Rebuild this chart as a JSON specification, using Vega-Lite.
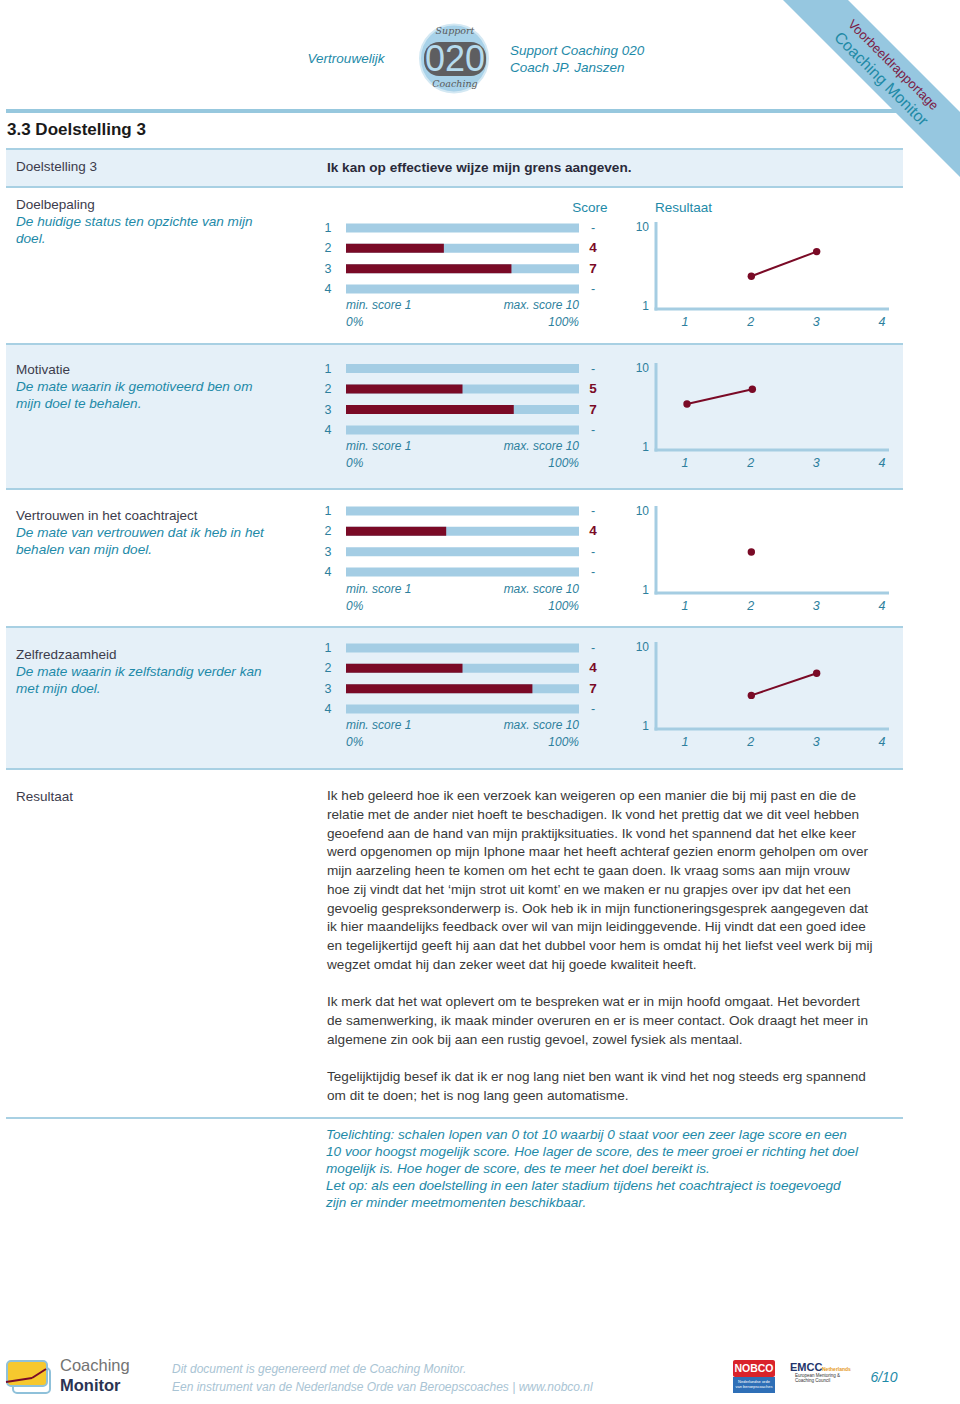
{
"$schema":"https://vega.github.io/schema/vega-lite/v6.json",
"width":960,"height":1404,
"autosize":{"type":"fit","contains":"padding"},
"padding":0,
"background":"white",
"config":{"view":{"stroke":null},"text":{"font":"Liberation Sans"}},
"data":{"values":[{}]},
"datasets":{
"ticks":[{"m":1},{"m":2},{"m":3},{"m":4}],
"minLbl":[{"line":0,"text":"min. score 1"},{"line":1,"text":"0%"}],
"maxLbl":[{"line":0,"text":"max. score 10"},{"line":1,"text":"100%"}],
"yLbl":[{"line":0,"v":"10"},{"line":1,"v":"1"}],
"para":[
{"line":1,"text":"Ik heb geleerd hoe ik een verzoek kan weigeren op een manier die bij mij past en die de"},
{"line":2,"text":"relatie met de ander niet hoeft te beschadigen. Ik vond het prettig dat we dit veel hebben"},
{"line":3,"text":"geoefend aan de hand van mijn praktijksituaties. Ik vond het spannend dat het elke keer"},
{"line":4,"text":"werd opgenomen op mijn Iphone maar het heeft achteraf gezien enorm geholpen om over"},
{"line":5,"text":"mijn aarzeling heen te komen om het echt te gaan doen. Ik vraag soms aan mijn vrouw"},
{"line":6,"text":"hoe zij vindt dat het ‘mijn strot uit komt’ en we maken er nu grapjes over ipv dat het een"},
{"line":7,"text":"gevoelig gespreksonderwerp is. Ook heb ik in mijn functioneringsgesprek aangegeven dat"},
{"line":8,"text":"ik hier maandelijks feedback over wil van mijn leidinggevende.  Hij vindt dat een goed idee"},
{"line":9,"text":"en tegelijkertijd geeft hij aan dat het dubbel voor hem is omdat hij het liefst veel werk bij mij"},
{"line":10,"text":"wegzet omdat hij dan zeker weet dat hij goede kwaliteit heeft."},
{"line":12,"text":"Ik merk dat het wat oplevert om te bespreken wat er in mijn hoofd omgaat. Het bevordert"},
{"line":13,"text":"de samenwerking, ik maak minder overuren en er is meer contact. Ook draagt het meer in"},
{"line":14,"text":"algemene zin ook bij aan een rustig gevoel, zowel fysiek als mentaal."},
{"line":16,"text":"Tegelijktijdig besef ik dat ik er nog lang niet ben want ik vind het nog steeds erg spannend"},
{"line":17,"text":"om dit te doen; het is nog lang geen automatisme."}
],
"note":[
{"line":1,"text":"Toelichting: schalen lopen van 0 tot 10 waarbij 0 staat voor een zeer lage score en een"},
{"line":2,"text":"10 voor hoogst mogelijk score. Hoe lager de score, des te meer groei er richting het doel"},
{"line":3,"text":"mogelijk is. Hoe hoger de score, des te meer het doel bereikt is."},
{"line":4,"text":"Let op: als een doelstelling in een later stadium tijdens het coachtraject is toegevoegd"},
{"line":5,"text":"zijn er minder meetmomenten beschikbaar."}
],
"foot":[
{"line":1,"text":"Dit document is gegenereerd met de Coaching Monitor."},
{"line":2,"text":"Een instrument van de Nederlandse Orde van Beroepscoaches | www.nobco.nl"}
]
},
"resolve":{"scale":{"x":"independent","y":"independent"}},
"layer":[
{"mark":{"type":"rect","color":"#e5f0f8"},"encoding":{"x":{"datum":6,"type":"quantitative","scale":{"domain":[0,960],"range":[0,960],"nice":false,"zero":false},"axis":null},"x2":{"datum":903},"y":{"datum":149,"type":"quantitative","scale":{"domain":[0,1404],"range":[0,1404],"nice":false,"zero":false},"axis":null},"y2":{"datum":187}}},
{"mark":{"type":"rect","color":"#e5f0f8"},"encoding":{"x":{"datum":6,"type":"quantitative","scale":{"domain":[0,960],"range":[0,960],"nice":false,"zero":false},"axis":null},"x2":{"datum":903},"y":{"datum":344,"type":"quantitative","scale":{"domain":[0,1404],"range":[0,1404],"nice":false,"zero":false},"axis":null},"y2":{"datum":489}}},
{"mark":{"type":"rect","color":"#e5f0f8"},"encoding":{"x":{"datum":6,"type":"quantitative","scale":{"domain":[0,960],"range":[0,960],"nice":false,"zero":false},"axis":null},"x2":{"datum":903},"y":{"datum":627,"type":"quantitative","scale":{"domain":[0,1404],"range":[0,1404],"nice":false,"zero":false},"axis":null},"y2":{"datum":769}}},
{"mark":{"type":"rule","color":"#97c8de","strokeWidth":4},"encoding":{"x":{"datum":6,"type":"quantitative","scale":{"domain":[0,960],"range":[0,960],"nice":false,"zero":false},"axis":null},"x2":{"datum":903},"y":{"datum":111,"type":"quantitative","scale":{"domain":[0,1404],"range":[0,1404],"nice":false,"zero":false},"axis":null}}},
{"mark":{"type":"rule","color":"#a8d0e3","strokeWidth":2},"encoding":{"x":{"datum":6,"type":"quantitative","scale":{"domain":[0,960],"range":[0,960],"nice":false,"zero":false},"axis":null},"x2":{"datum":903},"y":{"datum":149,"type":"quantitative","scale":{"domain":[0,1404],"range":[0,1404],"nice":false,"zero":false},"axis":null}}},
{"mark":{"type":"rule","color":"#a8d0e3","strokeWidth":2},"encoding":{"x":{"datum":6,"type":"quantitative","scale":{"domain":[0,960],"range":[0,960],"nice":false,"zero":false},"axis":null},"x2":{"datum":903},"y":{"datum":187,"type":"quantitative","scale":{"domain":[0,1404],"range":[0,1404],"nice":false,"zero":false},"axis":null}}},
{"mark":{"type":"rule","color":"#a8d0e3","strokeWidth":2},"encoding":{"x":{"datum":6,"type":"quantitative","scale":{"domain":[0,960],"range":[0,960],"nice":false,"zero":false},"axis":null},"x2":{"datum":903},"y":{"datum":344,"type":"quantitative","scale":{"domain":[0,1404],"range":[0,1404],"nice":false,"zero":false},"axis":null}}},
{"mark":{"type":"rule","color":"#a8d0e3","strokeWidth":2},"encoding":{"x":{"datum":6,"type":"quantitative","scale":{"domain":[0,960],"range":[0,960],"nice":false,"zero":false},"axis":null},"x2":{"datum":903},"y":{"datum":489,"type":"quantitative","scale":{"domain":[0,1404],"range":[0,1404],"nice":false,"zero":false},"axis":null}}},
{"mark":{"type":"rule","color":"#a8d0e3","strokeWidth":2},"encoding":{"x":{"datum":6,"type":"quantitative","scale":{"domain":[0,960],"range":[0,960],"nice":false,"zero":false},"axis":null},"x2":{"datum":903},"y":{"datum":627,"type":"quantitative","scale":{"domain":[0,1404],"range":[0,1404],"nice":false,"zero":false},"axis":null}}},
{"mark":{"type":"rule","color":"#a8d0e3","strokeWidth":2},"encoding":{"x":{"datum":6,"type":"quantitative","scale":{"domain":[0,960],"range":[0,960],"nice":false,"zero":false},"axis":null},"x2":{"datum":903},"y":{"datum":769,"type":"quantitative","scale":{"domain":[0,1404],"range":[0,1404],"nice":false,"zero":false},"axis":null}}},
{"mark":{"type":"rule","color":"#a8d0e3","strokeWidth":2},"encoding":{"x":{"datum":6,"type":"quantitative","scale":{"domain":[0,960],"range":[0,960],"nice":false,"zero":false},"axis":null},"x2":{"datum":903},"y":{"datum":1118,"type":"quantitative","scale":{"domain":[0,1404],"range":[0,1404],"nice":false,"zero":false},"axis":null}}},
{"mark":{"type":"rule","color":"#96c7e0","strokeWidth":46,"strokeCap":"butt","clip":true},"encoding":{"x":{"datum":790,"type":"quantitative","scale":{"domain":[0,960],"range":[0,960],"nice":false,"zero":false},"axis":null},"x2":{"datum":1000},"y":{"datum":-25.5,"type":"quantitative","scale":{"domain":[0,1404],"range":[0,1404],"nice":false,"zero":false},"axis":null},"y2":{"datum":184.5}}},
{"mark":{"type":"text","text":"Voorbeeldrapportage","angle":45,"fontSize":13,"color":"#7c1d47","align":"center","baseline":"middle"},"encoding":{"x":{"datum":893,"type":"quantitative","scale":{"domain":[0,960],"range":[0,960],"nice":false,"zero":false},"axis":null},"y":{"datum":65,"type":"quantitative","scale":{"domain":[0,1404],"range":[0,1404],"nice":false,"zero":false},"axis":null}}},
{"mark":{"type":"text","text":"Coaching Monitor","angle":45,"fontSize":16,"color":"#1f8aa6","align":"center","baseline":"middle"},"encoding":{"x":{"datum":881,"type":"quantitative","scale":{"domain":[0,960],"range":[0,960],"nice":false,"zero":false},"axis":null},"y":{"datum":79,"type":"quantitative","scale":{"domain":[0,1404],"range":[0,1404],"nice":false,"zero":false},"axis":null}}},
{"mark":{"type":"text","text":"Vertrouwelijk","fontSize":13.5,"fontStyle":"italic","color":"#1e8aa8","align":"center","baseline":"middle"},"encoding":{"x":{"datum":346,"type":"quantitative","scale":{"domain":[0,960],"range":[0,960],"nice":false,"zero":false},"axis":null},"y":{"datum":59,"type":"quantitative","scale":{"domain":[0,1404],"range":[0,1404],"nice":false,"zero":false},"axis":null}}},
{"mark":{"type":"text","text":"Support Coaching 020","fontSize":13.5,"fontStyle":"italic","color":"#1e8aa8","align":"left","baseline":"middle"},"encoding":{"x":{"datum":510,"type":"quantitative","scale":{"domain":[0,960],"range":[0,960],"nice":false,"zero":false},"axis":null},"y":{"datum":51,"type":"quantitative","scale":{"domain":[0,1404],"range":[0,1404],"nice":false,"zero":false},"axis":null}}},
{"mark":{"type":"text","text":"Coach JP. Janszen","fontSize":13.5,"fontStyle":"italic","color":"#1e8aa8","align":"left","baseline":"middle"},"encoding":{"x":{"datum":510,"type":"quantitative","scale":{"domain":[0,960],"range":[0,960],"nice":false,"zero":false},"axis":null},"y":{"datum":68,"type":"quantitative","scale":{"domain":[0,1404],"range":[0,1404],"nice":false,"zero":false},"axis":null}}},
{"mark":{"type":"point","shape":"circle","filled":true,"size":4624,"color":"#a8d2e9","stroke":"#d3e8f3","strokeWidth":2,"opacity":1},"encoding":{"x":{"datum":454,"type":"quantitative","scale":{"domain":[0,960],"range":[0,960],"nice":false,"zero":false},"axis":null},"y":{"datum":58.5,"type":"quantitative","scale":{"domain":[0,1404],"range":[0,1404],"nice":false,"zero":false},"axis":null}}},
{"mark":{"type":"rect","color":"#5e5e60","cornerRadius":15},"encoding":{"x":{"datum":424,"type":"quantitative","scale":{"domain":[0,960],"range":[0,960],"nice":false,"zero":false},"axis":null},"x2":{"datum":486},"y":{"datum":42,"type":"quantitative","scale":{"domain":[0,1404],"range":[0,1404],"nice":false,"zero":false},"axis":null},"y2":{"datum":76}}},
{"mark":{"type":"text","text":"020","fontSize":36,"color":"#b5dbee","align":"center","baseline":"middle"},"encoding":{"x":{"datum":455,"type":"quantitative","scale":{"domain":[0,960],"range":[0,960],"nice":false,"zero":false},"axis":null},"y":{"datum":60,"type":"quantitative","scale":{"domain":[0,1404],"range":[0,1404],"nice":false,"zero":false},"axis":null}}},
{"mark":{"type":"text","text":"Support","font":"DejaVu Serif","fontSize":9.5,"fontStyle":"italic","color":"#5a5a5a","align":"center","baseline":"middle"},"encoding":{"x":{"datum":455,"type":"quantitative","scale":{"domain":[0,960],"range":[0,960],"nice":false,"zero":false},"axis":null},"y":{"datum":31,"type":"quantitative","scale":{"domain":[0,1404],"range":[0,1404],"nice":false,"zero":false},"axis":null}}},
{"mark":{"type":"text","text":"Coaching","font":"DejaVu Serif","fontSize":9.5,"fontStyle":"italic","color":"#5a5a5a","align":"center","baseline":"middle"},"encoding":{"x":{"datum":455,"type":"quantitative","scale":{"domain":[0,960],"range":[0,960],"nice":false,"zero":false},"axis":null},"y":{"datum":84,"type":"quantitative","scale":{"domain":[0,1404],"range":[0,1404],"nice":false,"zero":false},"axis":null}}},
{"mark":{"type":"text","text":"3.3 Doelstelling 3","fontSize":17,"fontWeight":"bold","color":"#1a1a1a","align":"left","baseline":"middle"},"encoding":{"x":{"datum":7,"type":"quantitative","scale":{"domain":[0,960],"range":[0,960],"nice":false,"zero":false},"axis":null},"y":{"datum":130,"type":"quantitative","scale":{"domain":[0,1404],"range":[0,1404],"nice":false,"zero":false},"axis":null}}},
{"mark":{"type":"text","text":"Doelstelling 3","fontSize":13.5,"color":"#3c3c4c","align":"left","baseline":"middle"},"encoding":{"x":{"datum":16,"type":"quantitative","scale":{"domain":[0,960],"range":[0,960],"nice":false,"zero":false},"axis":null},"y":{"datum":167,"type":"quantitative","scale":{"domain":[0,1404],"range":[0,1404],"nice":false,"zero":false},"axis":null}}},
{"mark":{"type":"text","text":"Ik kan op effectieve wijze mijn grens aangeven.","fontSize":13.6,"fontWeight":"bold","color":"#2a2a3a","align":"left","baseline":"middle"},"encoding":{"x":{"datum":327,"type":"quantitative","scale":{"domain":[0,960],"range":[0,960],"nice":false,"zero":false},"axis":null},"y":{"datum":168,"type":"quantitative","scale":{"domain":[0,1404],"range":[0,1404],"nice":false,"zero":false},"axis":null}}},
{"mark":{"type":"text","text":"Score","fontSize":13.5,"color":"#1e8aa8","align":"center","baseline":"middle"},"encoding":{"x":{"datum":590,"type":"quantitative","scale":{"domain":[0,960],"range":[0,960],"nice":false,"zero":false},"axis":null},"y":{"datum":208,"type":"quantitative","scale":{"domain":[0,1404],"range":[0,1404],"nice":false,"zero":false},"axis":null}}},
{"mark":{"type":"text","text":"Resultaat","fontSize":13.5,"color":"#1e8aa8","align":"left","baseline":"middle"},"encoding":{"x":{"datum":655,"type":"quantitative","scale":{"domain":[0,960],"range":[0,960],"nice":false,"zero":false},"axis":null},"y":{"datum":208,"type":"quantitative","scale":{"domain":[0,1404],"range":[0,1404],"nice":false,"zero":false},"axis":null}}},

{"data":{"values":[{"m":1,"label":"-"},{"m":2,"label":"4","bar":4.2,"pt":4.0},{"m":3,"label":"7","bar":7.1,"pt":7.0},{"m":4,"label":"-"}]},
"resolve":{"scale":{"x":"independent","y":"independent"}},
"layer":[
{"mark":{"type":"rule","color":"#a4cde4","strokeWidth":9,"strokeCap":"butt"},"encoding":{"x":{"datum":0,"type":"quantitative","scale":{"domain":[0,10],"range":[346,579],"nice":false,"zero":false},"axis":null},"x2":{"datum":10},"y":{"field":"m","type":"quantitative","scale":{"domain":[1,4],"range":[228,289],"nice":false,"zero":false},"axis":null}}},
{"transform":[{"filter":"isValid(datum.bar)"}],"mark":{"type":"rule","color":"#7a0a26","strokeWidth":9,"strokeCap":"butt"},"encoding":{"x":{"field":"bar","type":"quantitative","scale":{"domain":[0,10],"range":[346,579],"nice":false,"zero":false},"axis":null},"x2":{"datum":0},"y":{"field":"m","type":"quantitative","scale":{"domain":[1,4],"range":[228,289],"nice":false,"zero":false},"axis":null}}},
{"mark":{"type":"text","fontSize":12.5,"color":"#2d7f9d","align":"center","baseline":"middle"},"encoding":{"x":{"datum":-0.77,"type":"quantitative","scale":{"domain":[0,10],"range":[346,579],"nice":false,"zero":false},"axis":null},"y":{"field":"m","type":"quantitative","scale":{"domain":[1,4],"range":[228,289],"nice":false,"zero":false},"axis":null},"text":{"field":"m"}}},
{"transform":[{"filter":"isValid(datum.bar)"}],"mark":{"type":"text","fontSize":13.5,"fontWeight":"bold","color":"#7a0a26","align":"center","baseline":"middle"},"encoding":{"x":{"datum":10.6,"type":"quantitative","scale":{"domain":[0,10],"range":[346,579],"nice":false,"zero":false},"axis":null},"y":{"field":"m","type":"quantitative","scale":{"domain":[1,4],"range":[228,289],"nice":false,"zero":false},"axis":null},"text":{"field":"label"}}},
{"transform":[{"filter":"!isValid(datum.bar)"}],"mark":{"type":"text","fontSize":12.5,"color":"#2d7f9d","align":"center","baseline":"middle"},"encoding":{"x":{"datum":10.6,"type":"quantitative","scale":{"domain":[0,10],"range":[346,579],"nice":false,"zero":false},"axis":null},"y":{"field":"m","type":"quantitative","scale":{"domain":[1,4],"range":[228,289],"nice":false,"zero":false},"axis":null},"text":{"field":"label"}}},
{"transform":[{"filter":"isValid(datum.pt)"}],"mark":{"type":"line","color":"#7a0a26","strokeWidth":2},"encoding":{"x":{"field":"m","type":"quantitative","scale":{"domain":[1,4],"range":[686,882],"nice":false,"zero":false},"axis":null},"y":{"field":"pt","type":"quantitative","scale":{"domain":[0,10],"range":[309,227],"nice":false,"zero":false},"axis":null}}},
{"transform":[{"filter":"isValid(datum.pt)"}],"mark":{"type":"point","filled":true,"size":55,"color":"#7a0a26","opacity":1},"encoding":{"x":{"field":"m","type":"quantitative","scale":{"domain":[1,4],"range":[686,882],"nice":false,"zero":false},"axis":null},"y":{"field":"pt","type":"quantitative","scale":{"domain":[0,10],"range":[309,227],"nice":false,"zero":false},"axis":null}}},
{"data":{"name":"ticks"},"mark":{"type":"text","fontSize":12.5,"fontStyle":"italic","color":"#2d7f9d","align":"center","baseline":"middle"},"encoding":{"x":{"field":"m","type":"quantitative","scale":{"domain":[1,4],"range":[685,882],"nice":false,"zero":false},"axis":null},"y":{"datum":322,"type":"quantitative","scale":{"domain":[0,1404],"range":[0,1404],"nice":false,"zero":false},"axis":null},"text":{"field":"m"}}},
{"data":{"name":"minLbl"},"mark":{"type":"text","fontSize":12,"fontStyle":"italic","color":"#2d7f9d","align":"left","baseline":"middle"},"encoding":{"x":{"datum":0,"type":"quantitative","scale":{"domain":[0,10],"range":[346,579],"nice":false,"zero":false},"axis":null},"y":{"field":"line","type":"quantitative","scale":{"domain":[0,1],"range":[305,322],"nice":false,"zero":false},"axis":null},"text":{"field":"text"}}},
{"data":{"name":"maxLbl"},"mark":{"type":"text","fontSize":12,"fontStyle":"italic","color":"#2d7f9d","align":"right","baseline":"middle"},"encoding":{"x":{"datum":10,"type":"quantitative","scale":{"domain":[0,10],"range":[346,579],"nice":false,"zero":false},"axis":null},"y":{"field":"line","type":"quantitative","scale":{"domain":[0,1],"range":[305,322],"nice":false,"zero":false},"axis":null},"text":{"field":"text"}}},
{"data":{"name":"yLbl"},"mark":{"type":"text","fontSize":12,"color":"#2d7f9d","align":"right","baseline":"middle"},"encoding":{"x":{"datum":649,"type":"quantitative","scale":{"domain":[0,960],"range":[0,960],"nice":false,"zero":false},"axis":null},"y":{"field":"line","type":"quantitative","scale":{"domain":[0,1],"range":[227,306],"nice":false,"zero":false},"axis":null},"text":{"field":"v"}}},
{"data":{"values":[{}]},"mark":{"type":"rule","color":"#a5cde2","strokeWidth":3},"encoding":{"x":{"datum":656,"type":"quantitative","scale":{"domain":[0,960],"range":[0,960],"nice":false,"zero":false},"axis":null},"y":{"datum":222,"type":"quantitative","scale":{"domain":[0,1404],"range":[0,1404],"nice":false,"zero":false},"axis":null},"y2":{"datum":310.5}}},
{"data":{"values":[{}]},"mark":{"type":"rule","color":"#a5cde2","strokeWidth":3},"encoding":{"x":{"datum":654.5,"type":"quantitative","scale":{"domain":[0,960],"range":[0,960],"nice":false,"zero":false},"axis":null},"x2":{"datum":889},"y":{"datum":309,"type":"quantitative","scale":{"domain":[0,1404],"range":[0,1404],"nice":false,"zero":false},"axis":null}}},
{"data":{"values":[{"text":"Doelbepaling"}]},"mark":{"type":"text","fontSize":13.5,"color":"#3c3c4c","align":"left","baseline":"middle"},"encoding":{"x":{"datum":16,"type":"quantitative","scale":{"domain":[0,960],"range":[0,960],"nice":false,"zero":false},"axis":null},"y":{"datum":205,"type":"quantitative","scale":{"domain":[0,1404],"range":[0,1404],"nice":false,"zero":false},"axis":null},"text":{"field":"text"}}},
{"data":{"values":[{"line":1,"text":"De huidige status ten opzichte van mijn"},{"line":2,"text":"doel."}]},"mark":{"type":"text","fontSize":13.6,"fontStyle":"italic","color":"#1e8aa8","align":"left","baseline":"middle"},"encoding":{"x":{"datum":16,"type":"quantitative","scale":{"domain":[0,960],"range":[0,960],"nice":false,"zero":false},"axis":null},"y":{"field":"line","type":"quantitative","scale":{"domain":[1,2],"range":[222,239],"nice":false,"zero":false},"axis":null},"text":{"field":"text"}}}
]},

{"data":{"values":[{"m":1,"label":"-","pt":5.6},{"m":2,"label":"5","bar":5.0,"pt":7.4},{"m":3,"label":"7","bar":7.2},{"m":4,"label":"-"}]},
"resolve":{"scale":{"x":"independent","y":"independent"}},
"layer":[
{"mark":{"type":"rule","color":"#a4cde4","strokeWidth":9,"strokeCap":"butt"},"encoding":{"x":{"datum":0,"type":"quantitative","scale":{"domain":[0,10],"range":[346,579],"nice":false,"zero":false},"axis":null},"x2":{"datum":10},"y":{"field":"m","type":"quantitative","scale":{"domain":[1,4],"range":[368.5,430],"nice":false,"zero":false},"axis":null}}},
{"transform":[{"filter":"isValid(datum.bar)"}],"mark":{"type":"rule","color":"#7a0a26","strokeWidth":9,"strokeCap":"butt"},"encoding":{"x":{"field":"bar","type":"quantitative","scale":{"domain":[0,10],"range":[346,579],"nice":false,"zero":false},"axis":null},"x2":{"datum":0},"y":{"field":"m","type":"quantitative","scale":{"domain":[1,4],"range":[368.5,430],"nice":false,"zero":false},"axis":null}}},
{"mark":{"type":"text","fontSize":12.5,"color":"#2d7f9d","align":"center","baseline":"middle"},"encoding":{"x":{"datum":-0.77,"type":"quantitative","scale":{"domain":[0,10],"range":[346,579],"nice":false,"zero":false},"axis":null},"y":{"field":"m","type":"quantitative","scale":{"domain":[1,4],"range":[368.5,430],"nice":false,"zero":false},"axis":null},"text":{"field":"m"}}},
{"transform":[{"filter":"isValid(datum.bar)"}],"mark":{"type":"text","fontSize":13.5,"fontWeight":"bold","color":"#7a0a26","align":"center","baseline":"middle"},"encoding":{"x":{"datum":10.6,"type":"quantitative","scale":{"domain":[0,10],"range":[346,579],"nice":false,"zero":false},"axis":null},"y":{"field":"m","type":"quantitative","scale":{"domain":[1,4],"range":[368.5,430],"nice":false,"zero":false},"axis":null},"text":{"field":"label"}}},
{"transform":[{"filter":"!isValid(datum.bar)"}],"mark":{"type":"text","fontSize":12.5,"color":"#2d7f9d","align":"center","baseline":"middle"},"encoding":{"x":{"datum":10.6,"type":"quantitative","scale":{"domain":[0,10],"range":[346,579],"nice":false,"zero":false},"axis":null},"y":{"field":"m","type":"quantitative","scale":{"domain":[1,4],"range":[368.5,430],"nice":false,"zero":false},"axis":null},"text":{"field":"label"}}},
{"transform":[{"filter":"isValid(datum.pt)"}],"mark":{"type":"line","color":"#7a0a26","strokeWidth":2},"encoding":{"x":{"field":"m","type":"quantitative","scale":{"domain":[1,4],"range":[687,883],"nice":false,"zero":false},"axis":null},"y":{"field":"pt","type":"quantitative","scale":{"domain":[0,10],"range":[450,368],"nice":false,"zero":false},"axis":null}}},
{"transform":[{"filter":"isValid(datum.pt)"}],"mark":{"type":"point","filled":true,"size":55,"color":"#7a0a26","opacity":1},"encoding":{"x":{"field":"m","type":"quantitative","scale":{"domain":[1,4],"range":[687,883],"nice":false,"zero":false},"axis":null},"y":{"field":"pt","type":"quantitative","scale":{"domain":[0,10],"range":[450,368],"nice":false,"zero":false},"axis":null}}},
{"data":{"name":"ticks"},"mark":{"type":"text","fontSize":12.5,"fontStyle":"italic","color":"#2d7f9d","align":"center","baseline":"middle"},"encoding":{"x":{"field":"m","type":"quantitative","scale":{"domain":[1,4],"range":[685,882],"nice":false,"zero":false},"axis":null},"y":{"datum":463,"type":"quantitative","scale":{"domain":[0,1404],"range":[0,1404],"nice":false,"zero":false},"axis":null},"text":{"field":"m"}}},
{"data":{"name":"minLbl"},"mark":{"type":"text","fontSize":12,"fontStyle":"italic","color":"#2d7f9d","align":"left","baseline":"middle"},"encoding":{"x":{"datum":0,"type":"quantitative","scale":{"domain":[0,10],"range":[346,579],"nice":false,"zero":false},"axis":null},"y":{"field":"line","type":"quantitative","scale":{"domain":[0,1],"range":[446,463],"nice":false,"zero":false},"axis":null},"text":{"field":"text"}}},
{"data":{"name":"maxLbl"},"mark":{"type":"text","fontSize":12,"fontStyle":"italic","color":"#2d7f9d","align":"right","baseline":"middle"},"encoding":{"x":{"datum":10,"type":"quantitative","scale":{"domain":[0,10],"range":[346,579],"nice":false,"zero":false},"axis":null},"y":{"field":"line","type":"quantitative","scale":{"domain":[0,1],"range":[446,463],"nice":false,"zero":false},"axis":null},"text":{"field":"text"}}},
{"data":{"name":"yLbl"},"mark":{"type":"text","fontSize":12,"color":"#2d7f9d","align":"right","baseline":"middle"},"encoding":{"x":{"datum":649,"type":"quantitative","scale":{"domain":[0,960],"range":[0,960],"nice":false,"zero":false},"axis":null},"y":{"field":"line","type":"quantitative","scale":{"domain":[0,1],"range":[368,447],"nice":false,"zero":false},"axis":null},"text":{"field":"v"}}},
{"data":{"values":[{}]},"mark":{"type":"rule","color":"#a5cde2","strokeWidth":3},"encoding":{"x":{"datum":656,"type":"quantitative","scale":{"domain":[0,960],"range":[0,960],"nice":false,"zero":false},"axis":null},"y":{"datum":363,"type":"quantitative","scale":{"domain":[0,1404],"range":[0,1404],"nice":false,"zero":false},"axis":null},"y2":{"datum":451.5}}},
{"data":{"values":[{}]},"mark":{"type":"rule","color":"#a5cde2","strokeWidth":3},"encoding":{"x":{"datum":654.5,"type":"quantitative","scale":{"domain":[0,960],"range":[0,960],"nice":false,"zero":false},"axis":null},"x2":{"datum":889},"y":{"datum":450,"type":"quantitative","scale":{"domain":[0,1404],"range":[0,1404],"nice":false,"zero":false},"axis":null}}},
{"data":{"values":[{"text":"Motivatie"}]},"mark":{"type":"text","fontSize":13.5,"color":"#3c3c4c","align":"left","baseline":"middle"},"encoding":{"x":{"datum":16,"type":"quantitative","scale":{"domain":[0,960],"range":[0,960],"nice":false,"zero":false},"axis":null},"y":{"datum":370,"type":"quantitative","scale":{"domain":[0,1404],"range":[0,1404],"nice":false,"zero":false},"axis":null},"text":{"field":"text"}}},
{"data":{"values":[{"line":1,"text":"De mate waarin ik gemotiveerd ben om"},{"line":2,"text":"mijn doel te behalen."}]},"mark":{"type":"text","fontSize":13.6,"fontStyle":"italic","color":"#1e8aa8","align":"left","baseline":"middle"},"encoding":{"x":{"datum":16,"type":"quantitative","scale":{"domain":[0,960],"range":[0,960],"nice":false,"zero":false},"axis":null},"y":{"field":"line","type":"quantitative","scale":{"domain":[1,2],"range":[387,404],"nice":false,"zero":false},"axis":null},"text":{"field":"text"}}}
]},

{"data":{"values":[{"m":1,"label":"-"},{"m":2,"label":"4","bar":4.3,"pt":5.0},{"m":3,"label":"-"},{"m":4,"label":"-"}]},
"resolve":{"scale":{"x":"independent","y":"independent"}},
"layer":[
{"mark":{"type":"rule","color":"#a4cde4","strokeWidth":9,"strokeCap":"butt"},"encoding":{"x":{"datum":0,"type":"quantitative","scale":{"domain":[0,10],"range":[346,579],"nice":false,"zero":false},"axis":null},"x2":{"datum":10},"y":{"field":"m","type":"quantitative","scale":{"domain":[1,4],"range":[511,572],"nice":false,"zero":false},"axis":null}}},
{"transform":[{"filter":"isValid(datum.bar)"}],"mark":{"type":"rule","color":"#7a0a26","strokeWidth":9,"strokeCap":"butt"},"encoding":{"x":{"field":"bar","type":"quantitative","scale":{"domain":[0,10],"range":[346,579],"nice":false,"zero":false},"axis":null},"x2":{"datum":0},"y":{"field":"m","type":"quantitative","scale":{"domain":[1,4],"range":[511,572],"nice":false,"zero":false},"axis":null}}},
{"mark":{"type":"text","fontSize":12.5,"color":"#2d7f9d","align":"center","baseline":"middle"},"encoding":{"x":{"datum":-0.77,"type":"quantitative","scale":{"domain":[0,10],"range":[346,579],"nice":false,"zero":false},"axis":null},"y":{"field":"m","type":"quantitative","scale":{"domain":[1,4],"range":[511,572],"nice":false,"zero":false},"axis":null},"text":{"field":"m"}}},
{"transform":[{"filter":"isValid(datum.bar)"}],"mark":{"type":"text","fontSize":13.5,"fontWeight":"bold","color":"#7a0a26","align":"center","baseline":"middle"},"encoding":{"x":{"datum":10.6,"type":"quantitative","scale":{"domain":[0,10],"range":[346,579],"nice":false,"zero":false},"axis":null},"y":{"field":"m","type":"quantitative","scale":{"domain":[1,4],"range":[511,572],"nice":false,"zero":false},"axis":null},"text":{"field":"label"}}},
{"transform":[{"filter":"!isValid(datum.bar)"}],"mark":{"type":"text","fontSize":12.5,"color":"#2d7f9d","align":"center","baseline":"middle"},"encoding":{"x":{"datum":10.6,"type":"quantitative","scale":{"domain":[0,10],"range":[346,579],"nice":false,"zero":false},"axis":null},"y":{"field":"m","type":"quantitative","scale":{"domain":[1,4],"range":[511,572],"nice":false,"zero":false},"axis":null},"text":{"field":"label"}}},
{"transform":[{"filter":"isValid(datum.pt)"}],"mark":{"type":"point","filled":true,"size":55,"color":"#7a0a26","opacity":1},"encoding":{"x":{"field":"m","type":"quantitative","scale":{"domain":[1,4],"range":[686,882],"nice":false,"zero":false},"axis":null},"y":{"field":"pt","type":"quantitative","scale":{"domain":[0,10],"range":[593,511],"nice":false,"zero":false},"axis":null}}},
{"data":{"name":"ticks"},"mark":{"type":"text","fontSize":12.5,"fontStyle":"italic","color":"#2d7f9d","align":"center","baseline":"middle"},"encoding":{"x":{"field":"m","type":"quantitative","scale":{"domain":[1,4],"range":[685,882],"nice":false,"zero":false},"axis":null},"y":{"datum":606,"type":"quantitative","scale":{"domain":[0,1404],"range":[0,1404],"nice":false,"zero":false},"axis":null},"text":{"field":"m"}}},
{"data":{"name":"minLbl"},"mark":{"type":"text","fontSize":12,"fontStyle":"italic","color":"#2d7f9d","align":"left","baseline":"middle"},"encoding":{"x":{"datum":0,"type":"quantitative","scale":{"domain":[0,10],"range":[346,579],"nice":false,"zero":false},"axis":null},"y":{"field":"line","type":"quantitative","scale":{"domain":[0,1],"range":[589,606],"nice":false,"zero":false},"axis":null},"text":{"field":"text"}}},
{"data":{"name":"maxLbl"},"mark":{"type":"text","fontSize":12,"fontStyle":"italic","color":"#2d7f9d","align":"right","baseline":"middle"},"encoding":{"x":{"datum":10,"type":"quantitative","scale":{"domain":[0,10],"range":[346,579],"nice":false,"zero":false},"axis":null},"y":{"field":"line","type":"quantitative","scale":{"domain":[0,1],"range":[589,606],"nice":false,"zero":false},"axis":null},"text":{"field":"text"}}},
{"data":{"name":"yLbl"},"mark":{"type":"text","fontSize":12,"color":"#2d7f9d","align":"right","baseline":"middle"},"encoding":{"x":{"datum":649,"type":"quantitative","scale":{"domain":[0,960],"range":[0,960],"nice":false,"zero":false},"axis":null},"y":{"field":"line","type":"quantitative","scale":{"domain":[0,1],"range":[511,590],"nice":false,"zero":false},"axis":null},"text":{"field":"v"}}},
{"data":{"values":[{}]},"mark":{"type":"rule","color":"#a5cde2","strokeWidth":3},"encoding":{"x":{"datum":656,"type":"quantitative","scale":{"domain":[0,960],"range":[0,960],"nice":false,"zero":false},"axis":null},"y":{"datum":506,"type":"quantitative","scale":{"domain":[0,1404],"range":[0,1404],"nice":false,"zero":false},"axis":null},"y2":{"datum":594.5}}},
{"data":{"values":[{}]},"mark":{"type":"rule","color":"#a5cde2","strokeWidth":3},"encoding":{"x":{"datum":654.5,"type":"quantitative","scale":{"domain":[0,960],"range":[0,960],"nice":false,"zero":false},"axis":null},"x2":{"datum":889},"y":{"datum":593,"type":"quantitative","scale":{"domain":[0,1404],"range":[0,1404],"nice":false,"zero":false},"axis":null}}},
{"data":{"values":[{"text":"Vertrouwen in het coachtraject"}]},"mark":{"type":"text","fontSize":13.5,"color":"#3c3c4c","align":"left","baseline":"middle"},"encoding":{"x":{"datum":16,"type":"quantitative","scale":{"domain":[0,960],"range":[0,960],"nice":false,"zero":false},"axis":null},"y":{"datum":516,"type":"quantitative","scale":{"domain":[0,1404],"range":[0,1404],"nice":false,"zero":false},"axis":null},"text":{"field":"text"}}},
{"data":{"values":[{"line":1,"text":"De mate van vertrouwen dat ik heb in het"},{"line":2,"text":"behalen van mijn doel."}]},"mark":{"type":"text","fontSize":13.6,"fontStyle":"italic","color":"#1e8aa8","align":"left","baseline":"middle"},"encoding":{"x":{"datum":16,"type":"quantitative","scale":{"domain":[0,960],"range":[0,960],"nice":false,"zero":false},"axis":null},"y":{"field":"line","type":"quantitative","scale":{"domain":[1,2],"range":[533,550],"nice":false,"zero":false},"axis":null},"text":{"field":"text"}}}
]},

{"data":{"values":[{"m":1,"label":"-"},{"m":2,"label":"4","bar":5.0,"pt":4.1},{"m":3,"label":"7","bar":8.0,"pt":6.8},{"m":4,"label":"-"}]},
"resolve":{"scale":{"x":"independent","y":"independent"}},
"layer":[
{"mark":{"type":"rule","color":"#a4cde4","strokeWidth":9,"strokeCap":"butt"},"encoding":{"x":{"datum":0,"type":"quantitative","scale":{"domain":[0,10],"range":[346,579],"nice":false,"zero":false},"axis":null},"x2":{"datum":10},"y":{"field":"m","type":"quantitative","scale":{"domain":[1,4],"range":[648,709],"nice":false,"zero":false},"axis":null}}},
{"transform":[{"filter":"isValid(datum.bar)"}],"mark":{"type":"rule","color":"#7a0a26","strokeWidth":9,"strokeCap":"butt"},"encoding":{"x":{"field":"bar","type":"quantitative","scale":{"domain":[0,10],"range":[346,579],"nice":false,"zero":false},"axis":null},"x2":{"datum":0},"y":{"field":"m","type":"quantitative","scale":{"domain":[1,4],"range":[648,709],"nice":false,"zero":false},"axis":null}}},
{"mark":{"type":"text","fontSize":12.5,"color":"#2d7f9d","align":"center","baseline":"middle"},"encoding":{"x":{"datum":-0.77,"type":"quantitative","scale":{"domain":[0,10],"range":[346,579],"nice":false,"zero":false},"axis":null},"y":{"field":"m","type":"quantitative","scale":{"domain":[1,4],"range":[648,709],"nice":false,"zero":false},"axis":null},"text":{"field":"m"}}},
{"transform":[{"filter":"isValid(datum.bar)"}],"mark":{"type":"text","fontSize":13.5,"fontWeight":"bold","color":"#7a0a26","align":"center","baseline":"middle"},"encoding":{"x":{"datum":10.6,"type":"quantitative","scale":{"domain":[0,10],"range":[346,579],"nice":false,"zero":false},"axis":null},"y":{"field":"m","type":"quantitative","scale":{"domain":[1,4],"range":[648,709],"nice":false,"zero":false},"axis":null},"text":{"field":"label"}}},
{"transform":[{"filter":"!isValid(datum.bar)"}],"mark":{"type":"text","fontSize":12.5,"color":"#2d7f9d","align":"center","baseline":"middle"},"encoding":{"x":{"datum":10.6,"type":"quantitative","scale":{"domain":[0,10],"range":[346,579],"nice":false,"zero":false},"axis":null},"y":{"field":"m","type":"quantitative","scale":{"domain":[1,4],"range":[648,709],"nice":false,"zero":false},"axis":null},"text":{"field":"label"}}},
{"transform":[{"filter":"isValid(datum.pt)"}],"mark":{"type":"line","color":"#7a0a26","strokeWidth":2},"encoding":{"x":{"field":"m","type":"quantitative","scale":{"domain":[1,4],"range":[686,882],"nice":false,"zero":false},"axis":null},"y":{"field":"pt","type":"quantitative","scale":{"domain":[0,10],"range":[729,647],"nice":false,"zero":false},"axis":null}}},
{"transform":[{"filter":"isValid(datum.pt)"}],"mark":{"type":"point","filled":true,"size":55,"color":"#7a0a26","opacity":1},"encoding":{"x":{"field":"m","type":"quantitative","scale":{"domain":[1,4],"range":[686,882],"nice":false,"zero":false},"axis":null},"y":{"field":"pt","type":"quantitative","scale":{"domain":[0,10],"range":[729,647],"nice":false,"zero":false},"axis":null}}},
{"data":{"name":"ticks"},"mark":{"type":"text","fontSize":12.5,"fontStyle":"italic","color":"#2d7f9d","align":"center","baseline":"middle"},"encoding":{"x":{"field":"m","type":"quantitative","scale":{"domain":[1,4],"range":[685,882],"nice":false,"zero":false},"axis":null},"y":{"datum":742,"type":"quantitative","scale":{"domain":[0,1404],"range":[0,1404],"nice":false,"zero":false},"axis":null},"text":{"field":"m"}}},
{"data":{"name":"minLbl"},"mark":{"type":"text","fontSize":12,"fontStyle":"italic","color":"#2d7f9d","align":"left","baseline":"middle"},"encoding":{"x":{"datum":0,"type":"quantitative","scale":{"domain":[0,10],"range":[346,579],"nice":false,"zero":false},"axis":null},"y":{"field":"line","type":"quantitative","scale":{"domain":[0,1],"range":[725,742],"nice":false,"zero":false},"axis":null},"text":{"field":"text"}}},
{"data":{"name":"maxLbl"},"mark":{"type":"text","fontSize":12,"fontStyle":"italic","color":"#2d7f9d","align":"right","baseline":"middle"},"encoding":{"x":{"datum":10,"type":"quantitative","scale":{"domain":[0,10],"range":[346,579],"nice":false,"zero":false},"axis":null},"y":{"field":"line","type":"quantitative","scale":{"domain":[0,1],"range":[725,742],"nice":false,"zero":false},"axis":null},"text":{"field":"text"}}},
{"data":{"name":"yLbl"},"mark":{"type":"text","fontSize":12,"color":"#2d7f9d","align":"right","baseline":"middle"},"encoding":{"x":{"datum":649,"type":"quantitative","scale":{"domain":[0,960],"range":[0,960],"nice":false,"zero":false},"axis":null},"y":{"field":"line","type":"quantitative","scale":{"domain":[0,1],"range":[647,726],"nice":false,"zero":false},"axis":null},"text":{"field":"v"}}},
{"data":{"values":[{}]},"mark":{"type":"rule","color":"#a5cde2","strokeWidth":3},"encoding":{"x":{"datum":656,"type":"quantitative","scale":{"domain":[0,960],"range":[0,960],"nice":false,"zero":false},"axis":null},"y":{"datum":642,"type":"quantitative","scale":{"domain":[0,1404],"range":[0,1404],"nice":false,"zero":false},"axis":null},"y2":{"datum":730.5}}},
{"data":{"values":[{}]},"mark":{"type":"rule","color":"#a5cde2","strokeWidth":3},"encoding":{"x":{"datum":654.5,"type":"quantitative","scale":{"domain":[0,960],"range":[0,960],"nice":false,"zero":false},"axis":null},"x2":{"datum":889},"y":{"datum":729,"type":"quantitative","scale":{"domain":[0,1404],"range":[0,1404],"nice":false,"zero":false},"axis":null}}},
{"data":{"values":[{"text":"Zelfredzaamheid"}]},"mark":{"type":"text","fontSize":13.5,"color":"#3c3c4c","align":"left","baseline":"middle"},"encoding":{"x":{"datum":16,"type":"quantitative","scale":{"domain":[0,960],"range":[0,960],"nice":false,"zero":false},"axis":null},"y":{"datum":655,"type":"quantitative","scale":{"domain":[0,1404],"range":[0,1404],"nice":false,"zero":false},"axis":null},"text":{"field":"text"}}},
{"data":{"values":[{"line":1,"text":"De mate waarin ik zelfstandig verder kan"},{"line":2,"text":"met mijn doel."}]},"mark":{"type":"text","fontSize":13.6,"fontStyle":"italic","color":"#1e8aa8","align":"left","baseline":"middle"},"encoding":{"x":{"datum":16,"type":"quantitative","scale":{"domain":[0,960],"range":[0,960],"nice":false,"zero":false},"axis":null},"y":{"field":"line","type":"quantitative","scale":{"domain":[1,2],"range":[672,689],"nice":false,"zero":false},"axis":null},"text":{"field":"text"}}}
]},

{"mark":{"type":"text","text":"Resultaat","fontSize":13.5,"color":"#3c3c4c","align":"left","baseline":"middle"},"encoding":{"x":{"datum":16,"type":"quantitative","scale":{"domain":[0,960],"range":[0,960],"nice":false,"zero":false},"axis":null},"y":{"datum":797,"type":"quantitative","scale":{"domain":[0,1404],"range":[0,1404],"nice":false,"zero":false},"axis":null}}},
{"data":{"name":"para"},"mark":{"type":"text","fontSize":13.6,"color":"#3a3a3a","align":"left","baseline":"middle"},"encoding":{"x":{"datum":327,"type":"quantitative","scale":{"domain":[0,960],"range":[0,960],"nice":false,"zero":false},"axis":null},"y":{"field":"line","type":"quantitative","scale":{"domain":[1,17],"range":[796,1096],"nice":false,"zero":false},"axis":null},"text":{"field":"text"}}},
{"data":{"name":"note"},"mark":{"type":"text","fontSize":13.6,"fontStyle":"italic","color":"#1e8aa8","align":"left","baseline":"middle"},"encoding":{"x":{"datum":326,"type":"quantitative","scale":{"domain":[0,960],"range":[0,960],"nice":false,"zero":false},"axis":null},"y":{"field":"line","type":"quantitative","scale":{"domain":[1,5],"range":[1135,1203],"nice":false,"zero":false},"axis":null},"text":{"field":"text"}}},

{"mark":{"type":"rect","fill":"transparent","stroke":"#8fc1da","strokeWidth":2,"cornerRadius":4},"encoding":{"x":{"datum":13,"type":"quantitative","scale":{"domain":[0,960],"range":[0,960],"nice":false,"zero":false},"axis":null},"x2":{"datum":50},"y":{"datum":1368,"type":"quantitative","scale":{"domain":[0,1404],"range":[0,1404],"nice":false,"zero":false},"axis":null},"y2":{"datum":1393}}},
{"mark":{"type":"rect","fill":"#f6c82e","stroke":"#8fc1da","strokeWidth":2,"cornerRadius":4},"encoding":{"x":{"datum":7,"type":"quantitative","scale":{"domain":[0,960],"range":[0,960],"nice":false,"zero":false},"axis":null},"x2":{"datum":47},"y":{"datum":1361,"type":"quantitative","scale":{"domain":[0,1404],"range":[0,1404],"nice":false,"zero":false},"axis":null},"y2":{"datum":1386}}},
{"mark":{"type":"rule","color":"#7a0a26","strokeWidth":2},"encoding":{"x":{"datum":6,"type":"quantitative","scale":{"domain":[0,960],"range":[0,960],"nice":false,"zero":false},"axis":null},"x2":{"datum":32},"y":{"datum":1382,"type":"quantitative","scale":{"domain":[0,1404],"range":[0,1404],"nice":false,"zero":false},"axis":null},"y2":{"datum":1378}}},
{"mark":{"type":"rule","color":"#7a0a26","strokeWidth":2},"encoding":{"x":{"datum":32,"type":"quantitative","scale":{"domain":[0,960],"range":[0,960],"nice":false,"zero":false},"axis":null},"x2":{"datum":46},"y":{"datum":1378,"type":"quantitative","scale":{"domain":[0,1404],"range":[0,1404],"nice":false,"zero":false},"axis":null},"y2":{"datum":1369}}},
{"mark":{"type":"text","text":"Coaching","fontSize":16.5,"color":"#737373","align":"left","baseline":"middle"},"encoding":{"x":{"datum":60,"type":"quantitative","scale":{"domain":[0,960],"range":[0,960],"nice":false,"zero":false},"axis":null},"y":{"datum":1366,"type":"quantitative","scale":{"domain":[0,1404],"range":[0,1404],"nice":false,"zero":false},"axis":null}}},
{"mark":{"type":"text","text":"Monitor","fontSize":16.5,"fontWeight":"bold","color":"#2b3352","align":"left","baseline":"middle"},"encoding":{"x":{"datum":60,"type":"quantitative","scale":{"domain":[0,960],"range":[0,960],"nice":false,"zero":false},"axis":null},"y":{"datum":1386,"type":"quantitative","scale":{"domain":[0,1404],"range":[0,1404],"nice":false,"zero":false},"axis":null}}},
{"data":{"name":"foot"},"mark":{"type":"text","fontSize":12,"fontStyle":"italic","color":"#a9c4d4","align":"left","baseline":"middle"},"encoding":{"x":{"datum":172,"type":"quantitative","scale":{"domain":[0,960],"range":[0,960],"nice":false,"zero":false},"axis":null},"y":{"field":"line","type":"quantitative","scale":{"domain":[1,2],"range":[1369,1386.5],"nice":false,"zero":false},"axis":null},"text":{"field":"text"}}},
{"mark":{"type":"rect","color":"#d9232b","cornerRadius":2},"encoding":{"x":{"datum":733,"type":"quantitative","scale":{"domain":[0,960],"range":[0,960],"nice":false,"zero":false},"axis":null},"x2":{"datum":775},"y":{"datum":1360,"type":"quantitative","scale":{"domain":[0,1404],"range":[0,1404],"nice":false,"zero":false},"axis":null},"y2":{"datum":1377}}},
{"mark":{"type":"rect","color":"#2e6fb7"},"encoding":{"x":{"datum":733,"type":"quantitative","scale":{"domain":[0,960],"range":[0,960],"nice":false,"zero":false},"axis":null},"x2":{"datum":775},"y":{"datum":1377,"type":"quantitative","scale":{"domain":[0,1404],"range":[0,1404],"nice":false,"zero":false},"axis":null},"y2":{"datum":1393}}},
{"mark":{"type":"text","text":"NOBCO","fontSize":10.5,"fontWeight":"bold","color":"white","align":"center","baseline":"middle"},"encoding":{"x":{"datum":754,"type":"quantitative","scale":{"domain":[0,960],"range":[0,960],"nice":false,"zero":false},"axis":null},"y":{"datum":1369,"type":"quantitative","scale":{"domain":[0,1404],"range":[0,1404],"nice":false,"zero":false},"axis":null}}},
{"mark":{"type":"text","text":"Nederlandse orde","fontSize":4,"color":"white","align":"center","baseline":"middle"},"encoding":{"x":{"datum":754,"type":"quantitative","scale":{"domain":[0,960],"range":[0,960],"nice":false,"zero":false},"axis":null},"y":{"datum":1382,"type":"quantitative","scale":{"domain":[0,1404],"range":[0,1404],"nice":false,"zero":false},"axis":null}}},
{"mark":{"type":"text","text":"van beroepscoaches","fontSize":4,"color":"white","align":"center","baseline":"middle"},"encoding":{"x":{"datum":754,"type":"quantitative","scale":{"domain":[0,960],"range":[0,960],"nice":false,"zero":false},"axis":null},"y":{"datum":1387,"type":"quantitative","scale":{"domain":[0,1404],"range":[0,1404],"nice":false,"zero":false},"axis":null}}},
{"mark":{"type":"text","text":"EMCC","fontSize":11,"fontWeight":"bold","color":"#23346b","align":"left","baseline":"middle"},"encoding":{"x":{"datum":790,"type":"quantitative","scale":{"domain":[0,960],"range":[0,960],"nice":false,"zero":false},"axis":null},"y":{"datum":1368,"type":"quantitative","scale":{"domain":[0,1404],"range":[0,1404],"nice":false,"zero":false},"axis":null}}},
{"mark":{"type":"text","text":"Netherlands","fontSize":5,"fontWeight":"bold","color":"#e59a1c","align":"left","baseline":"middle"},"encoding":{"x":{"datum":822,"type":"quantitative","scale":{"domain":[0,960],"range":[0,960],"nice":false,"zero":false},"axis":null},"y":{"datum":1369,"type":"quantitative","scale":{"domain":[0,1404],"range":[0,1404],"nice":false,"zero":false},"axis":null}}},
{"mark":{"type":"text","text":"European Mentoring &","fontSize":4.5,"color":"#333333","align":"left","baseline":"middle"},"encoding":{"x":{"datum":795,"type":"quantitative","scale":{"domain":[0,960],"range":[0,960],"nice":false,"zero":false},"axis":null},"y":{"datum":1376,"type":"quantitative","scale":{"domain":[0,1404],"range":[0,1404],"nice":false,"zero":false},"axis":null}}},
{"mark":{"type":"text","text":"Coaching Council","fontSize":4.5,"color":"#333333","align":"left","baseline":"middle"},"encoding":{"x":{"datum":795,"type":"quantitative","scale":{"domain":[0,960],"range":[0,960],"nice":false,"zero":false},"axis":null},"y":{"datum":1381,"type":"quantitative","scale":{"domain":[0,1404],"range":[0,1404],"nice":false,"zero":false},"axis":null}}},
{"mark":{"type":"text","text":"6/10","fontSize":14,"fontStyle":"italic","color":"#1e8aa8","align":"center","baseline":"middle"},"encoding":{"x":{"datum":884,"type":"quantitative","scale":{"domain":[0,960],"range":[0,960],"nice":false,"zero":false},"axis":null},"y":{"datum":1378,"type":"quantitative","scale":{"domain":[0,1404],"range":[0,1404],"nice":false,"zero":false},"axis":null}}}
]
}
